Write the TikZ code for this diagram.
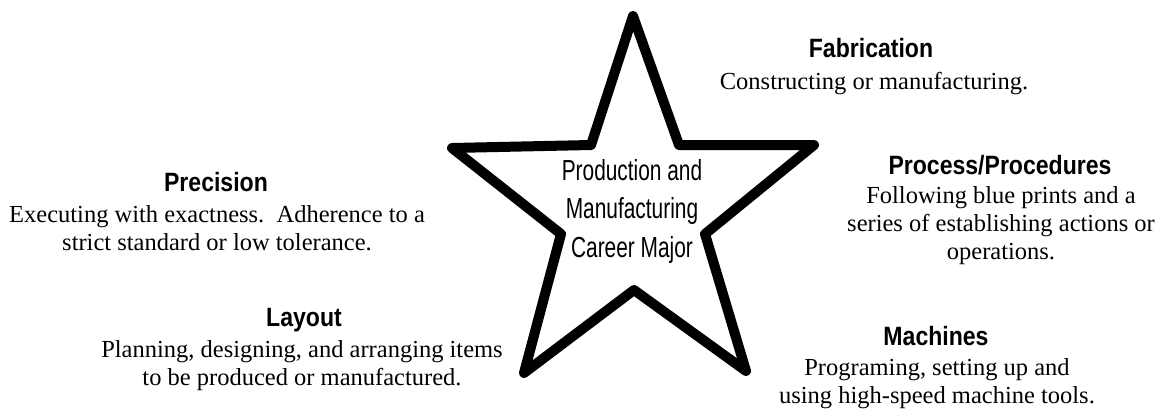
\documentclass[tikz,border=0pt]{standalone}
\usepackage{fontspec}
\setmainfont{Liberation Serif}
\newfontfamily\headfont{Liberation Sans}[FakeStretch=0.87]
\newfontfamily\condfont{Liberation Sans}[FakeStretch=0.72]
\begin{document}
\begin{tikzpicture}[x=1pt,y=-1pt,
  head/.style={font=\headfont\bfseries\fontsize{26.5}{30}\selectfont, inner sep=0pt, anchor=base},
  body/.style={font=\fontsize{24.5}{28}\selectfont, align=center, inner sep=0pt, anchor=base},
  mid/.style={font=\condfont\fontsize{29}{38.5}\selectfont, align=center, inner sep=0pt, anchor=base},
  starline/.style={draw=black, line width=10pt, line join=round, fill=white}]
\useasboundingbox (0,0) rectangle (1158,415);
% star
\coordinate (sT) at (633,16);
\coordinate (sUR) at (679,145);
\coordinate (sR) at (814,145);
\coordinate (sRL) at (705,234);
\coordinate (sBR) at (746,371);
\coordinate (sB) at (634,290);
\coordinate (sBL) at (524,373);
\coordinate (sLL) at (561,234);
\coordinate (sL) at (452,148);
\coordinate (sUL) at (591,145);
\draw[starline] (sT) -- (sUR) -- (sR) -- (sRL) -- (sBR) -- (sB) -- (sBL) -- (sLL) -- (sL) -- (sUL) -- cycle;
% multi-line nodes: base anchor is the baseline of the last line
\node[mid] (center) at (632,257) {Production and\\Manufacturing\\Career Major};
% labels
\node[head] (fabH) at (871,57) {Fabrication};
\node[body] (fabB) at (874,89) {Constructing or manufacturing.};
\node[head] (preH) at (216,191) {Precision};
\node[body] (preB) at (217,250) {Executing with exactness.\ \ Adherence to a\\strict standard or low tolerance.};
\node[head] (procH) at (1000,174) {Process/Procedures};
\node[body] (procB) at (1001,259) {Following blue prints and a\\series of establishing actions or\\operations.};
\node[head] (layH) at (304,326) {Layout};
\node[body] (layB) at (302,385) {Planning, designing, and arranging items\\to be produced or manufactured.};
\node[head] (macH) at (936,345) {Machines};
\node[body] (macB) at (937,403) {Programing, setting up and\\using high-speed machine tools.};
\end{tikzpicture}
\end{document}
